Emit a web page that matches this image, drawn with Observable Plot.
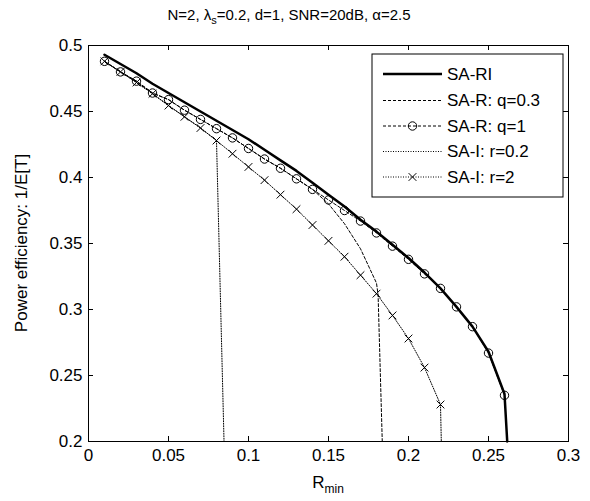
<!DOCTYPE html>
<html><head><meta charset="utf-8">
<script src="https://cdn.jsdelivr.net/npm/d3@7"></script>
<script src="https://cdn.jsdelivr.net/npm/@observablehq/plot@0.6"></script>
<style>
body{margin:0;background:#fff;font-family:"Liberation Sans",Arial,sans-serif;}
#wrap{position:relative;width:590px;height:501px;overflow:hidden;}
#title{position:absolute;top:5px;left:0;width:578px;text-align:center;font-size:15px;line-height:20px;color:#000;}
#title sub{font-size:11px;vertical-align:-4px;line-height:0;}
#chart{position:absolute;top:30px;left:0;}
#legend{position:absolute;top:0;left:0;}
</style></head><body>
<div id="wrap">
<div id="title">N=2, λ<sub>s</sub>=0.2, d=1, SNR=20dB, α=2.5</div>
<div id="chart"></div>
<svg id="legend" width="590" height="501"></svg>
</div>
<script>
// ---- data ----
const xTicks = [0, 0.05, 0.1, 0.15, 0.2, 0.25, 0.3];
const yTicks = [0.2, 0.25, 0.3, 0.35, 0.4, 0.45, 0.5];
const seriesNames = ["SA-RI", "SA-R: q=0.3", "SA-R: q=1", "SA-I: r=0.2", "SA-I: r=2"];

// SA-RI (thick solid)
const sariR = [0.01,0.02,0.03,0.04,0.05,0.06,0.07,0.08,0.09,0.10,0.11,0.12,0.13,0.14,0.15,0.16,0.17,0.18,0.19,0.20,0.21,0.22,0.23,0.24,0.25,0.26,0.2617];
const sariE = [0.493,0.486,0.479,0.471,0.464,0.457,0.450,0.443,0.436,0.429,0.421,0.413,0.405,0.396,0.387,0.378,0.368,0.359,0.349,0.339,0.328,0.316,0.302,0.287,0.268,0.236,0.2];

// SA-R: q=0.3 (dashed)
const sar03R = [0.01,0.02,0.03,0.04,0.05,0.06,0.07,0.08,0.09,0.10,0.11,0.12,0.13,0.14,0.15,0.16,0.17,0.18,0.181,0.1836];
const sar03E = [0.488,0.480,0.473,0.464,0.459,0.451,0.444,0.437,0.430,0.422,0.414,0.407,0.399,0.391,0.380,0.365,0.346,0.320,0.311,0.2];

// SA-R: q=1 (dashed, circles)
const sar1R = [0.01,0.02,0.03,0.04,0.05,0.06,0.07,0.08,0.09,0.10,0.11,0.12,0.13,0.14,0.15,0.16,0.17,0.18,0.19,0.20,0.21,0.22,0.23,0.24,0.25,0.26];
const sar1E = [0.488,0.480,0.473,0.464,0.459,0.451,0.444,0.437,0.430,0.422,0.414,0.407,0.399,0.391,0.383,0.375,0.367,0.358,0.348,0.338,0.327,0.316,0.302,0.287,0.267,0.235];

// SA-I: r=0.2 (dotted)
const sai02R = [0.01,0.02,0.03,0.04,0.05,0.06,0.07,0.08,0.0847];
const sai02E = [0.488,0.480,0.472,0.4635,0.4545,0.446,0.4375,0.428,0.2];

// SA-I: r=2 (dotted, crosses)
const sai2R = [0.01,0.02,0.03,0.04,0.05,0.06,0.07,0.08,0.09,0.10,0.11,0.12,0.13,0.14,0.15,0.16,0.17,0.18,0.19,0.20,0.21,0.22];
const sai2E = [0.488,0.480,0.472,0.4635,0.4545,0.446,0.4375,0.428,0.418,0.408,0.398,0.387,0.376,0.364,0.352,0.340,0.326,0.312,0.2955,0.278,0.256,0.228];
const sai2TailR = [0.22, 0.2205];
const sai2TailE = [0.228, 0.2];

const zip = (R, E) => R.map((r, i) => ({r, e: E[i]}));
const sari = zip(sariR, sariE);
const sar03 = zip(sar03R, sar03E);
const sar1 = zip(sar1R, sar1E);
const sai02 = zip(sai02R, sai02E);
const sai2 = zip(sai2R, sai2E);
const sai2Tail = zip(sai2TailR, sai2TailE);

const FONT = "Liberation Sans, Arial, sans-serif";
const W = 590, H = 471, ML = 88, MR = 22, MT = 15, MB = 60;
const FW = W - ML - MR, FH = H - MT - MB;

const plot = Plot.plot({
  width: W, height: H,
  marginTop: MT, marginBottom: MB, marginLeft: ML, marginRight: MR,
  style: {fontFamily: FONT, fontSize: "17px", background: "white", color: "black", overflow: "visible"},
  x: {domain: [0, 0.3]},
  y: {domain: [0.2, 0.5]},
  marks: [
    Plot.axisX({ticks: xTicks, anchor: "bottom", tickSize: 0, tickPadding: 7, tickFormat: d => String(d), label: null}),
    Plot.axisY({ticks: yTicks, anchor: "left", tickSize: 0, tickPadding: 6, tickFormat: d => String(d), label: null}),
    // inward ticks on all four sides
    Plot.tickX(xTicks, {x: d => d, insetTop: FH - 5, stroke: "black"}),
    Plot.tickX(xTicks, {x: d => d, insetBottom: FH - 5, stroke: "black"}),
    Plot.tickY(yTicks, {y: d => d, insetLeft: FW - 5, stroke: "black"}),
    Plot.tickY(yTicks, {y: d => d, insetRight: FW - 5, stroke: "black"}),
    // series
    Plot.line(sai02, {x: "r", y: "e", stroke: "black", strokeWidth: 1, strokeDasharray: "1,1.5"}),
    Plot.line(sai2, {x: "r", y: "e", stroke: "black", strokeWidth: 1, strokeDasharray: "1,1.5"}),
    Plot.line(sai2Tail, {x: "r", y: "e", stroke: "black", strokeWidth: 1, strokeDasharray: "1,1.5"}),
    Plot.line(sar03, {x: "r", y: "e", stroke: "black", strokeWidth: 1, strokeDasharray: "3,2"}),
    Plot.line(sar1, {x: "r", y: "e", stroke: "black", strokeWidth: 1, strokeDasharray: "3,2"}),
    Plot.line(sari, {x: "r", y: "e", stroke: "black", strokeWidth: 2.5}),
    Plot.dot(sar1, {x: "r", y: "e", symbol: "circle", r: 4.2, stroke: "black", fill: "none", strokeWidth: 1}),
    Plot.dot(sai2, {x: "r", y: "e", symbol: "times", r: 3.6, stroke: "black", fill: "none", strokeWidth: 1}),
    Plot.frame({stroke: "black", strokeWidth: 1})
  ]
});
document.getElementById("chart").appendChild(plot);

// axis labels (with subscript)
const svg = d3.select(plot);
const xs = plot.scale("x"), ys = plot.scale("y");
const cx = (xs.range[0] + xs.range[1]) / 2;
const cy = (ys.range[0] + ys.range[1]) / 2;
const xl = svg.append("text").attr("x", cx).attr("y", H - 13).attr("text-anchor", "middle")
  .attr("font-family", FONT).attr("font-size", 17).attr("fill", "black");
xl.append("tspan").text("R");
xl.append("tspan").attr("font-size", 12).attr("dy", 5).text("min");
svg.append("text").attr("transform", `translate(27,${cy}) rotate(-90)`).attr("text-anchor", "middle")
  .attr("font-family", FONT).attr("font-size", 17).attr("fill", "black").text("Power efficiency: 1/E[T]");

// legend (overlay inside the axes)
const lg = d3.select("#legend");
const LX = 372, LY = 54, LW = 191, LH = 143;
lg.append("rect").attr("x", LX).attr("y", LY).attr("width", LW).attr("height", LH)
  .attr("fill", "white").attr("stroke", "black").attr("stroke-width", 1);
const styles = [
  {w: 2.5, dash: null, sym: null},
  {w: 1, dash: "3,2", sym: null},
  {w: 1, dash: "3,2", sym: d3.symbolCircle, r: 4.2},
  {w: 1, dash: "1,1.5", sym: null},
  {w: 1, dash: "1,1.5", sym: d3.symbolTimes, r: 3.6}
];
const rowY = [74, 100.5, 126, 151.5, 177];
seriesNames.forEach((name, i) => {
  const s = styles[i], y = rowY[i];
  const ln = lg.append("line").attr("x1", 383).attr("x2", 442).attr("y1", y).attr("y2", y)
    .attr("stroke", "black").attr("stroke-width", s.w);
  if (s.dash) ln.attr("stroke-dasharray", s.dash);
  if (s.sym) lg.append("path").attr("d", d3.symbol(s.sym, s.r * s.r * Math.PI)())
    .attr("transform", `translate(412.5,${y})`).attr("fill", "none").attr("stroke", "black").attr("stroke-width", 1);
  lg.append("text").attr("x", 447).attr("y", y).attr("dy", "0.35em").attr("font-family", FONT)
    .attr("font-size", 17).attr("fill", "black").text(name);
});
</script>
</body></html>
